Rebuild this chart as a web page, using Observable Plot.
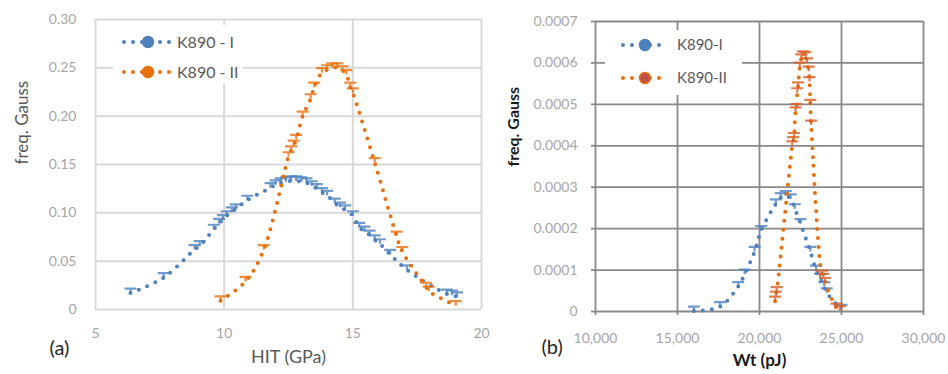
<!DOCTYPE html>
<html>
<head>
<meta charset="utf-8">
<script src="https://cdn.jsdelivr.net/npm/d3@7"></script>
<script src="https://cdn.jsdelivr.net/npm/@observablehq/plot@0.6"></script>
<style>
  body { margin: 0; background: #fff; }
  #wrap { position: relative; width: 948px; height: 374px; overflow: hidden; font-family: Lato, "Open Sans", sans-serif; }
  .panel { position: absolute; top: 0; }
  #legend { position: absolute; left: 0; top: 0; pointer-events: none; }
</style>
</head>
<body>
<div id="wrap"></div>
<script>
// ---- Panel (a): indentation hardness HIT (GPa) vs Gaussian frequency ----
const hitTicks = [5, 10, 15, 20];
const freqTicksA = [0, 0.05, 0.10, 0.15, 0.20, 0.25, 0.30];
const hitK890I = [
  [6.36, 0.017], [7.65, 0.033], [8.85, 0.062], [9.05, 0.066], [9.6, 0.083],
  [9.8, 0.089], [9.95, 0.093], [10.1, 0.097], [10.3, 0.101], [10.45, 0.104],
  [10.9, 0.113], [11.8, 0.126], [12.0, 0.129], [12.2, 0.131], [12.4, 0.132],
  [12.6, 0.133], [12.8, 0.133], [13.0, 0.132], [13.2, 0.131], [13.4, 0.128],
  [13.6, 0.125], [13.8, 0.121], [14.0, 0.118], [14.3, 0.110], [14.5, 0.106],
  [14.7, 0.103], [15.0, 0.097], [15.25, 0.085], [15.45, 0.081], [15.65, 0.077],
  [15.85, 0.072], [16.05, 0.068], [16.45, 0.057], [17.1, 0.041], [18.65, 0.016],
  [18.85, 0.015], [19.05, 0.013]
];
const hitK890II = [
  [9.86, 0.009], [10.83, 0.029], [11.54, 0.062], [12.5, 0.158], [12.6, 0.164],
  [12.7, 0.170], [12.8, 0.176], [13.05, 0.200], [13.36, 0.218], [13.5, 0.230],
  [13.8, 0.245], [14.0, 0.248], [14.2, 0.250], [14.4, 0.250], [14.6, 0.247],
  [14.75, 0.243], [14.9, 0.230], [15.0, 0.224], [15.85, 0.152], [16.7, 0.076],
  [16.92, 0.060], [17.85, 0.023], [17.95, 0.019], [19.0, 0.004]
];

// ---- Panel (b): total work Wt (pJ) vs Gaussian frequency ----
const wtTicks = [10000, 15000, 20000, 25000, 30000];
const freqTicksB = [0, 0.0001, 0.0002, 0.0003, 0.0004, 0.0005, 0.0006, 0.0007];
const wtK890I = [
  [16000, 0.000001], [17600, 0.000012], [18700, 0.00006], [19100, 0.00009],
  [19700, 0.000145], [20100, 0.000195], [21000, 0.00026], [21300, 0.000275],
  [21600, 0.00028], [21900, 0.000272], [22150, 0.000248], [22500, 0.000212],
  [23100, 0.000145], [23450, 0.0001], [23700, 0.00008], [23950, 0.00006],
  [24100, 0.000045], [25000, 0.000005]
];
const wtK890II = [
  [20950, 0.000025], [21000, 0.000037], [21050, 0.000048], [22000, 0.0004],
  [22050, 0.00041], [22100, 0.00042], [22200, 0.000482], [22250, 0.00049],
  [22300, 0.000528], [22350, 0.000542], [22450, 0.00059], [22550, 0.00061],
  [22650, 0.000617], [22800, 0.000615], [22900, 0.0006], [23000, 0.00058],
  [23050, 0.000555], [23100, 0.0005], [23150, 0.00045], [23800, 0.000088],
  [23900, 0.00008], [24000, 0.00007], [24700, 0.000008], [24900, 0.000002]
];

const seriesNamesA = ["K890 - I", "K890 - II"];
const seriesNamesB = ["K890-I", "K890-II"];

const blue = "#4f81bd";
const orange = "#e8700e";
const orangeBar = "#d95f26";

// Small error-bar glyph: a horizontal cap above a short stem ending at the point
const capSymbol = {
  draw(context, size) {
    const r = Math.sqrt(size / Math.PI);
    const h = r * 0.75;
    context.moveTo(-r, -h);
    context.lineTo(r, -h);
    context.moveTo(0, -h);
    context.lineTo(0, 0);
  }
};

const px = d => d[0];
const py = d => d[1];

function seriesMarks(data, color, barColor) {
  return [
    Plot.line(data, {x: px, y: py, curve: "catmull-rom", stroke: color, strokeWidth: 4,
      strokeDasharray: "0,9", strokeLinecap: "round"}),
    Plot.dot(data, {x: px, y: py, symbol: capSymbol, r: 6, fill: "none",
      stroke: barColor, strokeWidth: 2.2, strokeOpacity: 0.8})
  ];
}

const wrap = document.getElementById("wrap");

const plotA = Plot.plot({
  width: 500, height: 374,
  marginTop: 19, marginBottom: 65, marginLeft: 95, marginRight: 19,
  x: {domain: [5, 20]},
  y: {domain: [0, 0.30]},
  style: {fontFamily: "Lato, 'Open Sans', sans-serif", fontSize: "14px", background: "transparent", overflow: "visible"},
  marks: [
    Plot.ruleX(hitTicks, {stroke: "#d9d9d9", strokeWidth: 2}),
    Plot.ruleY(freqTicksA, {stroke: "#d9d9d9", strokeWidth: 2}),
    Plot.axisX({ticks: hitTicks, tickSize: 0, tickPadding: 19, color: "#a6a6a6", label: null}),
    Plot.axisY({ticks: freqTicksA, tickSize: 0, tickPadding: 19, color: "#a6a6a6", label: null,
      tickFormat: d => d === 0 ? "0" : d.toFixed(2)}),
    ...seriesMarks(hitK890I, blue, blue),
    ...seriesMarks(hitK890II, orange, orange),
    Plot.text(["freq. Gauss"], {frameAnchor: "left", rotate: -90, dx: -73, fill: "#595959", fontSize: 17}),
    Plot.text(["HIT (GPa)"], {frameAnchor: "bottom", dy: 53, fill: "#595959", fontSize: 18}),
    Plot.text(["(a)"], {frameAnchor: "bottom-left", dx: -46, dy: 45, fill: "#262626", fontSize: 20})
  ]
});
plotA.classList.add("panel");
plotA.style.left = "0px";
wrap.appendChild(plotA);

const plotB = Plot.plot({
  width: 448, height: 374,
  marginTop: 21, marginBottom: 63, marginLeft: 95, marginRight: 25,
  x: {domain: [10000, 30000]},
  y: {domain: [0, 0.0007]},
  style: {fontFamily: "Lato, 'Open Sans', sans-serif", fontSize: "14px", background: "transparent", overflow: "visible"},
  marks: [
    Plot.ruleX(wtTicks, {stroke: "#898989", strokeWidth: 1.8}),
    Plot.ruleY(freqTicksB, {stroke: "#898989", strokeWidth: 1.8}),
    Plot.axisX({ticks: wtTicks, tickSize: 4, tickPadding: 18, stroke: "#898989", strokeWidth: 1.8,
      color: "#a6a6a6", label: null, tickFormat: d3.format(",")}),
    Plot.axisY({ticks: freqTicksB, tickSize: 4, tickPadding: 14, stroke: "#898989", strokeWidth: 1.8,
      color: "#a6a6a6", label: null, tickFormat: d => d === 0 ? "0" : d.toFixed(4)}),
    ...seriesMarks(wtK890I, blue, blue),
    ...seriesMarks(wtK890II, orange, orangeBar),
    Plot.text(["freq. Gauss"], {frameAnchor: "left", rotate: -90, dx: -82, fill: "#1a1a1a", fontSize: 16, fontWeight: "bold"}),
    Plot.text(["Wt (pJ)"], {frameAnchor: "bottom", dy: 54, fill: "#1a1a1a", fontSize: 17, fontWeight: "bold"}),
    Plot.text(["(b)"], {frameAnchor: "bottom-left", dx: -54, dy: 42, fill: "#262626", fontSize: 20})
  ]
});
plotB.classList.add("panel");
plotB.style.left = "500px";
wrap.appendChild(plotB);

// Legends: white boxes with a dotted sample line, a round marker and the series name
const legendSvg = d3.select(wrap).append("svg")
  .attr("id", "legend").attr("width", 948).attr("height", 374);

function drawLegend(box, items) {
  legendSvg.append("rect")
    .attr("x", box.x).attr("y", box.y).attr("width", box.w).attr("height", box.h)
    .attr("fill", "#fff");
  items.forEach(it => {
    const g = legendSvg.append("g");
    g.append("line")
      .attr("x1", it.x0).attr("x2", it.x1).attr("y1", it.y).attr("y2", it.y)
      .attr("stroke", it.color).attr("stroke-width", 4)
      .attr("stroke-dasharray", "0,9").attr("stroke-linecap", "round");
    g.append("circle")
      .attr("cx", (it.x0 + it.x1) / 2).attr("cy", it.y).attr("r", it.r)
      .attr("fill", it.fill).attr("stroke", it.color).attr("stroke-width", 1.5);
    g.append("text")
      .attr("x", it.tx).attr("y", it.y).attr("dy", "0.35em")
      .attr("fill", "#595959").attr("font-size", it.size)
      .attr("font-family", "Lato, 'Open Sans', sans-serif")
      .text(it.label);
  });
}

drawLegend({x: 113, y: 25, w: 130, h: 58}, [
  {label: seriesNamesA[0], color: blue, fill: blue, r: 5.5, x0: 124, x1: 172, y: 42, tx: 177, size: 16},
  {label: seriesNamesA[1], color: orange, fill: orange, r: 5.5, x0: 124, x1: 172, y: 72, tx: 177, size: 16}
]);
drawLegend({x: 605, y: 30, w: 137, h: 65}, [
  {label: seriesNamesB[0], color: blue, fill: blue, r: 5.5, x0: 623, x1: 667, y: 45, tx: 677, size: 15},
  {label: seriesNamesB[1], color: orange, fill: "#c0504d", r: 5.5, x0: 623, x1: 667, y: 78, tx: 677, size: 15}
]);
</script>
</body>
</html>
